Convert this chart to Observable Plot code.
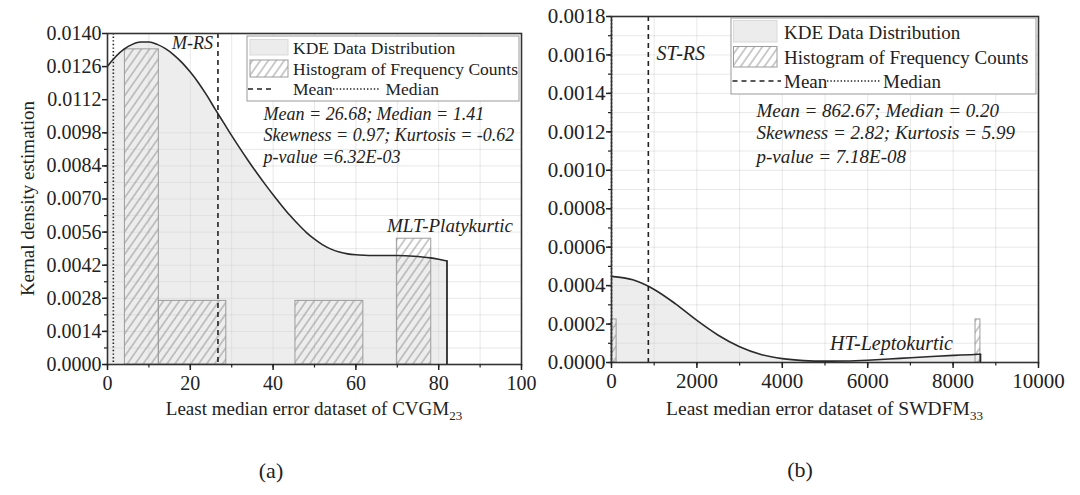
<!DOCTYPE html>
<html><head><meta charset="utf-8">
<script src="https://cdn.jsdelivr.net/npm/d3@7"></script>
<script src="https://cdn.jsdelivr.net/npm/@observablehq/plot@0.6"></script>
<style>
html,body{margin:0;padding:0;background:#fff;}
#wrap{position:relative;width:1080px;height:495px;overflow:hidden;font-family:"Liberation Serif","Times New Roman",serif;color:#222;background:#fff;}
#wrap svg, #wrap svg text{font-family:"Liberation Serif","Times New Roman",serif !important;}
.panel{position:absolute;top:0;}
.cap{position:absolute;font-size:22px;transform:translate(-50%,-50%);white-space:nowrap;}
</style></head>
<body>
<div id="wrap">
  <div id="pa" class="panel" style="left:0px"></div>
  <div id="pb" class="panel" style="left:540px"></div>
  <div class="cap" style="left:271px;top:471px">(a)</div>
  <div class="cap" style="left:800px;top:470px">(b)</div>
</div>
<script>
// ---------- Panel (a): CVGM23 ----------
const kdeAX = [0,2,4,6,8,10,12,14,16,18,20,22,24,26,28,30,32,34,36,38,40,42,44,46,48,50,52,54,56,58,60,62,64,66,68,70,72,74,76,78,80,82];
const kdeAY = [0.01262,0.01303,0.01334,0.01354,0.01364,0.01364,0.01354,0.01336,0.01310,0.01277,0.01237,0.01191,0.01138,0.01080,0.01024,0.00968,0.00914,0.00862,0.00812,0.00764,0.00718,0.00674,0.00632,0.00594,0.00559,0.00530,0.00506,0.00488,0.00476,0.00468,0.00464,0.00462,0.00461,0.00461,0.00461,0.00461,0.00460,0.00458,0.00455,0.00451,0.00445,0.00438];
const histAStart = [4.2, 12.4, 45.4, 69.9];
const histAEnd   = [12.4, 28.7, 61.8, 78.2];
const histAH     = [0.01333, 0.00269, 0.00269, 0.00532];
const meanA = 26.68, medianA = 1.41;
const xTicksA = [0, 20, 40, 60, 80, 100];
const yTicksA = [0.0000, 0.0014, 0.0028, 0.0042, 0.0056, 0.0070, 0.0084, 0.0098, 0.0112, 0.0126, 0.0140];
const statsA = ["Mean = 26.68; Median = 1.41", "Skewness = 0.97; Kurtosis = -0.62", "p-value =6.32E-03"];

// ---------- Panel (b): SWDFM33 ----------
const kdeBX = [0,500,1000,1500,2000,2500,3000,3500,4000,4500,5000,5500,6000,6500,7000,7500,8000,8500,8640];
const kdeBY = [0.000448,0.000430,0.000380,0.000305,0.000219,0.000142,0.000082,0.000042,0.000020,0.000010,0.000007,0.000008,0.000012,0.000018,0.000025,0.000031,0.000037,0.000042,0.000043];
const histBStart = [0, 8525];
const histBEnd   = [120, 8640];
const histBH     = [0.000224, 0.000224];
const meanB = 862.67, medianB = 0.20;
const xTicksB = [0, 2000, 4000, 6000, 8000, 10000];
const yTicksB = [0.0000, 0.0002, 0.0004, 0.0006, 0.0008, 0.0010, 0.0012, 0.0014, 0.0016, 0.0018];
const statsB = ["Mean = 862.67; Median = 0.20", "Skewness = 2.82; Kurtosis = 5.99", "p-value = 7.18E-08"];

const SERIF = "'Liberation Serif', 'Times New Roman', serif";

function txt(g, x, y, s, size, opts = {}) {
  const t = g.append("text").attr("x", x).attr("y", y).attr("dy", "0.35em")
    .attr("font-size", size).attr("fill", "#222").attr("font-family", SERIF)
    .attr("text-anchor", opts.anchor || "start");
  if (opts.italic) t.attr("font-style", "italic");
  if (opts.rotate) t.attr("transform", `rotate(${opts.rotate},${x},${y})`);
  t.text(s);
  return t;
}

function panel(cfg) {
  const kde = cfg.kx.map((x, i) => ({x, y: cfg.ky[i]}));
  const last = kde[kde.length - 1];
  const hist = cfg.hs.map((s, i) => ({x1: s, x2: cfg.he[i], h: cfg.hh[i]}));
  const fmtX = d3.format("d"), fmtY = d3.format(".4f");
  const svg = Plot.plot({
    width: 540, height: 440,
    marginLeft: cfg.ml, marginRight: cfg.mr, marginTop: cfg.mt, marginBottom: cfg.mb,
    style: {fontFamily: SERIF, fontSize: cfg.tickFont + "px", color: "#222", background: "transparent", overflow: "visible"},
    x: {domain: [cfg.xTicks[0], cfg.xTicks[cfg.xTicks.length - 1]]},
    y: {domain: [cfg.yTicks[0], cfg.yTicks[cfg.yTicks.length - 1]]},
    marks: [
      Plot.gridX(cfg.xMinor, {stroke: "#000", strokeOpacity: 0.09}),
      Plot.gridY(cfg.yMinor, {stroke: "#000", strokeOpacity: 0.09}),
      Plot.areaY(kde, {x: "x", y: "y", fill: "#d4d4d4", fillOpacity: 0.42, curve: "monotone-x"}),
      Plot.rectY(hist, {x1: "x1", x2: "x2", y: "h", fill: `url(#${cfg.id})`, stroke: "#9c9c9c", strokeWidth: 1}),
      Plot.lineY(kde, {x: "x", y: "y", stroke: "#2a2a2a", strokeWidth: 1.6, curve: "monotone-x"}),
      Plot.ruleX([last], {x: "x", y1: 0, y2: "y", stroke: "#2a2a2a", strokeWidth: 1.8}),
      Plot.ruleX([cfg.mean], {stroke: "#222", strokeWidth: 1.6, strokeDasharray: "5,4"}),
      Plot.ruleX([cfg.median], {stroke: "#222", strokeWidth: 1.6, strokeDasharray: "1.4,2.2"}),
      Plot.frame({stroke: "#333", strokeWidth: 1.6}),
      Plot.axisX({ticks: cfg.xTicks, tickFormat: fmtX, tickSize: 6, tickPadding: 5, strokeWidth: 1.5, label: null, fontFamily: SERIF}),
      Plot.axisX({ticks: cfg.xMinor, text: null, tickSize: 3.5, strokeWidth: 1.2, label: null}),
      Plot.axisY({ticks: cfg.yTicks, tickFormat: fmtY, tickSize: 5, tickPadding: 1, strokeWidth: 1.5, label: null, fontFamily: SERIF}),
      Plot.axisY({ticks: cfg.yMinor, text: null, tickSize: 3, strokeWidth: 1.2, label: null})
    ]
  });
  const s = d3.select(svg);
  const defs = s.insert("defs", ":first-child");
  const pat = defs.append("pattern").attr("id", cfg.id).attr("patternUnits", "userSpaceOnUse")
    .attr("width", 6.5).attr("height", 10).attr("patternTransform", "rotate(35)");
  pat.append("line").attr("x1", 1).attr("y1", 0).attr("x2", 1).attr("y2", 10)
    .attr("stroke", "#8a8a8a").attr("stroke-width", 0.9);
  cfg.extra(s);
  return svg;
}

// ---------- build (a) ----------
const svgA = panel({
  id: "hatchA", kx: kdeAX, ky: kdeAY, hs: histAStart, he: histAEnd, hh: histAH,
  mean: meanA, median: medianA, xTicks: xTicksA, yTicks: yTicksA,
  xMinor: d3.range(0, 101, 10), yMinor: d3.range(0, 15).map(i => i * 0.0007),
  ml: 107, mr: 19, mt: 33, mb: 76, tickFont: 20,
  extra: (s) => {
    const g = s.append("g");
    g.append("rect").attr("x", 247).attr("y", 36).attr("width", 272).attr("height", 65)
      .attr("fill", "#fff").attr("stroke", "#9a9a9a").attr("stroke-width", 1);
    g.append("rect").attr("x", 250).attr("y", 39.5).attr("width", 38).attr("height", 15.5)
      .attr("fill", "#ececec").attr("stroke", "#dadada");
    txt(g, 293, 47.5, "KDE Data Distribution", 17.5);
    g.append("rect").attr("x", 250).attr("y", 60).attr("width", 38).attr("height", 17)
      .attr("fill", "url(#hatchA)").attr("stroke", "#9c9c9c");
    txt(g, 293, 68.5, "Histogram of Frequency Counts", 17.5);
    g.append("line").attr("x1", 248).attr("x2", 274).attr("y1", 89).attr("y2", 89)
      .attr("stroke", "#222").attr("stroke-width", 1.5).attr("stroke-dasharray", "5,4");
    txt(g, 293, 89, "Mean", 17.5);
    g.append("line").attr("x1", 333).attr("x2", 380).attr("y1", 89).attr("y2", 89)
      .attr("stroke", "#222").attr("stroke-width", 1.4).attr("stroke-dasharray", "1.4,2");
    txt(g, 385.5, 89, "Median", 17.5);
    [113.4, 134.8, 156.2].forEach((y, i) => txt(g, 263.5, y, statsA[i], 18, {italic: true}));
    txt(g, 172, 43, "M-RS", 18, {italic: true});
    txt(g, 387, 225, "MLT-Platykurtic", 19, {italic: true});
    txt(g, 27, 198.5, "Kernal density estimation", 19, {anchor: "middle", rotate: -90});
    const xl = g.append("text").attr("x", 314).attr("y", 408.5).attr("dy", "0.35em")
      .attr("text-anchor", "middle").attr("font-size", 19).attr("fill", "#222").attr("font-family", SERIF);
    xl.append("tspan").text("Least median error dataset of CVGM");
    xl.append("tspan").attr("font-size", 13).attr("dy", 5).text("23");
  }
});
document.getElementById("pa").appendChild(svgA);

// ---------- build (b) ----------
const svgB = panel({
  id: "hatchB", kx: kdeBX, ky: kdeBY, hs: histBStart, he: histBEnd, hh: histBH,
  mean: meanB, median: medianB, xTicks: xTicksB, yTicks: yTicksB,
  xMinor: d3.range(0, 10001, 1000), yMinor: d3.range(0, 19).map(i => i * 0.0001),
  ml: 71, mr: 42, mt: 16, mb: 78, tickFont: 21,
  extra: (s) => {
    const g = s.append("g");
    g.append("rect").attr("x", 191).attr("y", 18).attr("width", 305).attr("height", 76)
      .attr("fill", "#fff").attr("stroke", "#9a9a9a").attr("stroke-width", 1);
    g.append("rect").attr("x", 193.5).attr("y", 20.5).attr("width", 43.5).attr("height", 21.5)
      .attr("fill", "#ececec").attr("stroke", "#dadada");
    txt(g, 244, 32.2, "KDE Data Distribution", 19);
    g.append("rect").attr("x", 193.5).attr("y", 46.5).attr("width", 43.5).attr("height", 20.5)
      .attr("fill", "url(#hatchB)").attr("stroke", "#9c9c9c");
    txt(g, 244, 57.4, "Histogram of Frequency Counts", 19);
    g.append("line").attr("x1", 192.5).attr("x2", 241).attr("y1", 81).attr("y2", 81)
      .attr("stroke", "#222").attr("stroke-width", 1.5).attr("stroke-dasharray", "5,4");
    txt(g, 244, 81, "Mean", 19);
    g.append("line").attr("x1", 287).attr("x2", 340).attr("y1", 81).attr("y2", 81)
      .attr("stroke", "#222").attr("stroke-width", 1.4).attr("stroke-dasharray", "1.4,2");
    txt(g, 343, 81, "Median", 19);
    [110, 132.5, 156].forEach((y, i) => txt(g, 216.5, y, statsB[i], 19, {italic: true}));
    txt(g, 116.5, 53.3, "ST-RS", 20, {italic: true});
    txt(g, 290, 343.3, "HT-Leptokurtic", 20, {italic: true});
    const xl = g.append("text").attr("x", 284.5).attr("y", 408.5).attr("dy", "0.35em")
      .attr("text-anchor", "middle").attr("font-size", 19.5).attr("fill", "#222").attr("font-family", SERIF);
    xl.append("tspan").text("Least median error dataset of SWDFM");
    xl.append("tspan").attr("font-size", 13).attr("dy", 5).text("33");
  }
});
document.getElementById("pb").appendChild(svgB);
</script>
</body></html>
